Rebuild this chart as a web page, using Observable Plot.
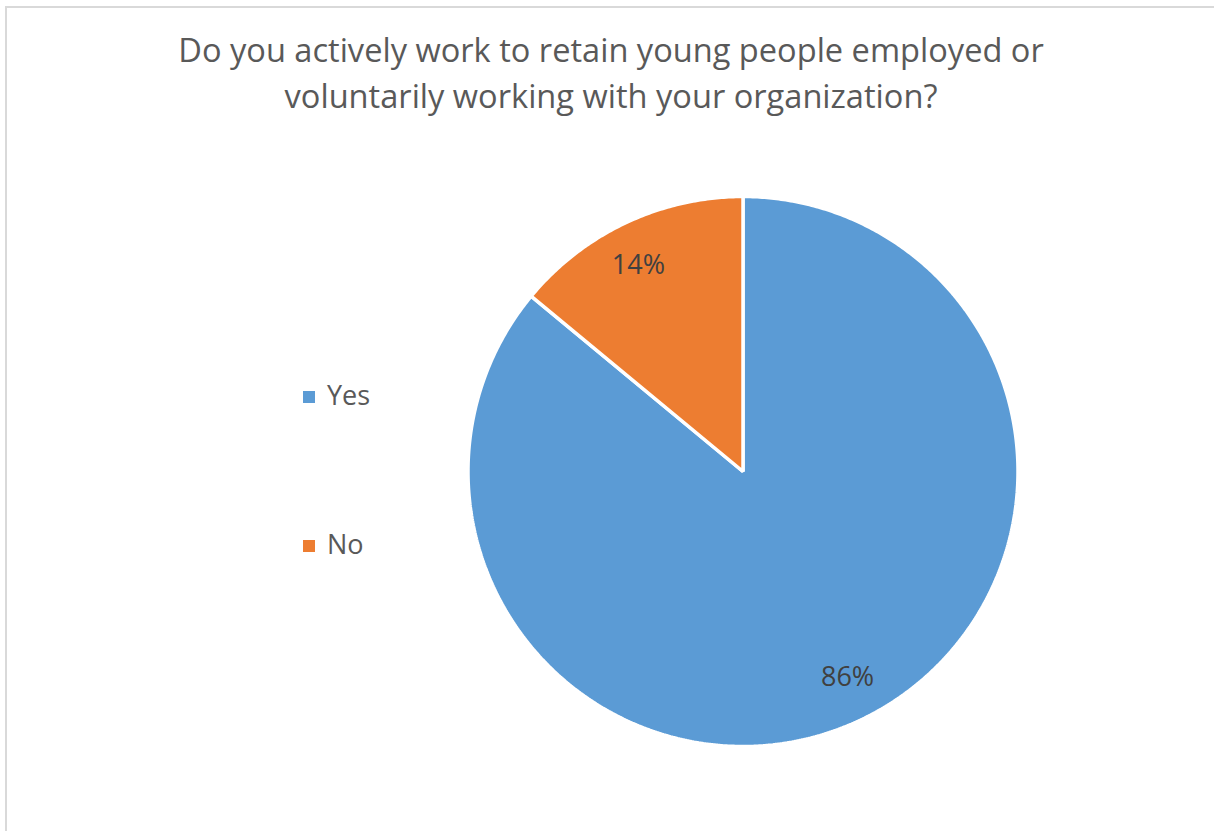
<!DOCTYPE html>
<html><head><meta charset="utf-8">
<script src="https://cdn.jsdelivr.net/npm/d3@7"></script>
<script src="https://cdn.jsdelivr.net/npm/@observablehq/plot@0.6"></script>
<style>
body{margin:0;background:#fff;font-family:"Open Sans",sans-serif;}
#wrap{position:relative;width:1214px;height:831px;overflow:hidden;background:#fff;}
#frame{position:absolute;left:5px;top:6px;width:1300px;height:900px;border-left:2px solid #d9d9d9;border-top:2px solid #d9d9d9;}
#title{position:absolute;left:8px;width:1206px;top:27px;text-align:center;font-size:32.6px;color:#595959;line-height:46px;}
#chart{position:absolute;left:0;top:0;}
.leg{position:absolute;left:303px;font-size:27px;color:#595959;line-height:30px;white-space:nowrap;}
.leg span.sw{display:inline-block;width:12px;height:12px;margin-right:12px;vertical-align:2px;}
</style></head>
<body>
<div id="wrap">
<div id="frame"></div>
<div id="chart"></div>
<div id="title">Do you actively work to retain young people employed or<br>voluntarily working with your organization?</div>
<div id="legend"></div>
</div>
<script>
const categories = ["Yes", "No"];
const values = [86, 14];
const labels = ["86%", "14%"];
const colors = ["#5B9BD5", "#ED7D31"];

const W = 1214, H = 831;
const cx = 742.5, cy = 471, R = 275;

const arcs = d3.pie().sort(null).value(d => d.value)(categories.map((c, i) => ({cat: c, value: values[i], label: labels[i]})));

const pts = [];
for (const a of arcs) {
  pts.push({cat: a.data.cat, x: cx, y: cy});
  const n = Math.max(2, Math.ceil((a.endAngle - a.startAngle) / (Math.PI / 360)));
  for (let k = 0; k <= n; k++) {
    const t = a.startAngle + (a.endAngle - a.startAngle) * k / n;
    pts.push({cat: a.data.cat, x: cx + R * Math.sin(t), y: cy - R * Math.cos(t)});
  }
}
const labelPts = arcs.map(a => {
  const m = (a.startAngle + a.endAngle) / 2 - 0.03, r = R * 0.84;
  return {label: a.data.label, x: cx + r * Math.sin(m), y: cy - r * Math.cos(m)};
});

const chart = Plot.plot({
  width: W, height: H, margin: 0,
  x: {type: "linear", domain: [0, W], range: [0, W], axis: null},
  y: {type: "linear", domain: [0, H], range: [0, H], axis: null},
  color: {domain: categories, range: colors},
  style: {background: "transparent", fontFamily: "Open Sans, sans-serif"},
  marks: [
    Plot.line(pts, {x: "x", y: "y", z: "cat", fill: "cat", stroke: "white", strokeWidth: 3.5, strokeLinejoin: "miter", curve: "linear-closed"}),
    Plot.text(labelPts, {x: "x", y: "y", text: "label", fontSize: 27, fill: "#404040"})
  ]
});
document.getElementById("chart").appendChild(chart);

const leg = document.getElementById("legend");
const legTop = [380, 529];
categories.forEach((c, i) => {
  const d = document.createElement("div");
  d.className = "leg";
  d.style.top = legTop[i] + "px";
  d.innerHTML = `<span class="sw" style="background:${colors[i]}"></span>${c}`;
  leg.appendChild(d);
});
</script>
</body></html>
